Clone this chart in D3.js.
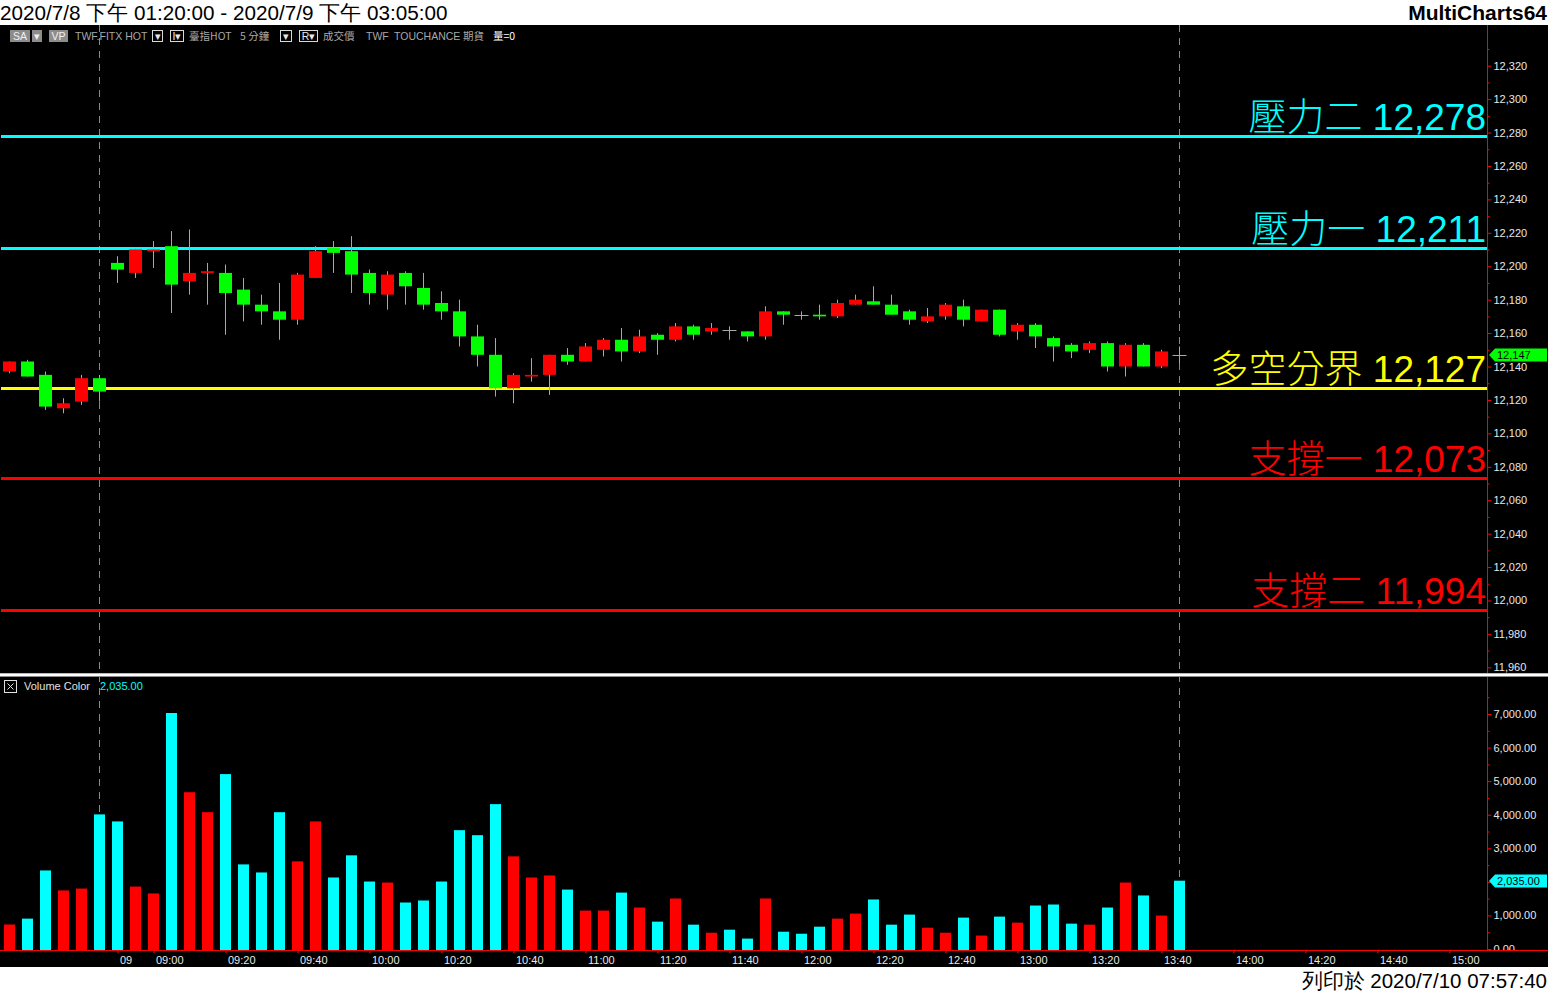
<!DOCTYPE html>
<html><head><meta charset="utf-8">
<script src="https://cdn.jsdelivr.net/npm/d3@7"></script>
<style>
html,body{margin:0;padding:0;background:#fff;overflow:hidden}
svg{display:block}
</style></head><body>
<svg id="c" width="1548" height="991"></svg>
<script>
// ---------- DATA ----------
const openP  = [12137,12143,12135,12115,12119,12133,12202,12196,12209,12212,12191,12196,12196,12186,12177,12173,12168,12193,12211,12209,12196,12183,12196,12187,12178,12173,12158,12147,12127,12134,12135,12147,12143,12150,12156,12149,12159,12156,12164,12161,12162,12161,12158,12173,12171,12171,12170,12177,12179,12177,12173,12167,12170,12176,12167,12174,12161,12165,12157,12153,12150,12154,12140,12153,12140,12147];
const highP  = [12143,12144,12137,12121,12135,12135,12206,12211,12215,12221,12222,12202,12201,12193,12183,12190,12196,12212,12215,12218,12198,12197,12197,12196,12185,12180,12165,12157,12136,12145,12147,12151,12154,12157,12163,12162,12160,12166,12165,12166,12164,12161,12176,12173,12173,12177,12180,12183,12188,12183,12174,12175,12178,12180,12174,12174,12166,12166,12158,12154,12155,12155,12154,12154,12150,12152];
const lowP   = [12136,12134,12114,12112,12117,12119,12190,12193,12199,12172,12183,12177,12159,12167,12165,12156,12165,12193,12196,12184,12177,12174,12177,12174,12168,12152,12140,12122,12118,12131,12123,12141,12143,12146,12143,12148,12147,12155,12156,12159,12156,12155,12156,12165,12168,12168,12169,12177,12177,12171,12165,12166,12168,12164,12167,12158,12156,12151,12143,12145,12148,12137,12134,12140,12139,12142];
const closeP = [12143,12134,12116,12118,12133,12125,12198,12210,12210,12189,12196,12197,12184,12177,12173,12168,12195,12209,12208,12195,12184,12195,12188,12177,12173,12158,12147,12127,12135,12135,12147,12143,12152,12156,12149,12158,12156,12164,12159,12163,12162,12158,12173,12171,12171,12170,12178,12180,12177,12171,12168,12170,12177,12168,12174,12159,12165,12158,12152,12149,12154,12140,12153,12140,12149,12147];
const volume = [730,905,2340,1745,1800,4010,3800,1860,1655,7030,4670,4075,5210,2520,2280,4075,2610,3800,2130,2790,2010,1980,1385,1445,2010,3540,3390,4315,2760,2130,2190,1770,1145,1145,1680,1235,815,1505,725,485,575,310,1505,515,455,665,905,1055,1475,725,1025,635,485,935,400,965,785,1295,1325,755,725,1235,1980,1595,995,2035];

const levelNames  = ["壓力二","壓力一","多空分界","支撐一","支撐二"];
const levelValues = [12278,12211,12127,12073,11994];
const levelColors = ["#00ffff","#00ffff","#ffff00","#ff0000","#ff0000"];

const timeTickIndex  = [6,8,12,16,20,24,28,32,36,40,44,48,52,56,60,64,68,72,76,80];
const timeTickLabels = ["09","09:00","09:20","09:40","10:00","10:20","10:40","11:00","11:20","11:40","12:00","12:20","12:40","13:00","13:20","13:40","14:00","14:20","14:40","15:00"];
const sessionBreakIndex = [5,65];

const priceTicks = [11960,11980,12000,12020,12040,12060,12080,12100,12120,12140,12160,12180,12200,12220,12240,12260,12280,12300,12320];
const volumeTicks = [0,1000,2000,3000,4000,5000,6000,7000];

const lastPrice = 12147;
const lastVolume = 2035;

const titleText = "2020/7/8 下午 01:20:00 - 2020/7/9 下午 03:05:00";
const brandText = "MultiCharts64";
const printText = "列印於 2020/7/10 07:57:40";

// ---------- LAYOUT ----------
const W = 1548, H = 991;
const axisX = 1487;
const priceTop = 25, priceBottom = 673;
const volTop = 677, volBottom = 950;

const svg = d3.select("#c");
const numFont = "'Liberation Sans', Arial, sans-serif";
const cjkFont = "'Noto Sans CJK TC','Noto Sans CJK SC', sans-serif";

const x = d3.scaleLinear().domain([0, 80]).range([9.5, 9.5 + 18 * 80]);
const yP = d3.scaleLinear().domain([11960, 12320]).range([667.3, 65.7]);
const yV = d3.scaleLinear().domain([0, 7000]).range([949, 714]);

// background
svg.append("rect").attr("x",0).attr("y",0).attr("width",W).attr("height",H).attr("fill","#fff");
svg.append("rect").attr("x",0).attr("y",25).attr("width",W).attr("height",967-25).attr("fill","#000");

// clips
const defs = svg.append("defs");
defs.append("clipPath").attr("id","cp").append("rect").attr("x",0).attr("y",priceTop).attr("width",axisX).attr("height",priceBottom-priceTop);
defs.append("clipPath").attr("id","cv").append("rect").attr("x",0).attr("y",volTop).attr("width",axisX).attr("height",volBottom-volTop);
defs.append("clipPath").attr("id","cpa").append("rect").attr("x",axisX).attr("y",priceTop).attr("width",W-axisX).attr("height",priceBottom-priceTop);
defs.append("clipPath").attr("id","cva").append("rect").attr("x",axisX).attr("y",volTop).attr("width",W-axisX).attr("height",volBottom-volTop);

// session break dashed lines
svg.append("g").selectAll("line").data(sessionBreakIndex).join("line")
  .attr("x1",d=>x(d)).attr("x2",d=>x(d)).attr("y1",priceTop).attr("y2",volBottom)
  .attr("stroke","#8a8a8a").attr("stroke-width",1).attr("stroke-dasharray","7,6");

// ---------- PRICE PANE ----------
const gp = svg.append("g").attr("clip-path","url(#cp)");
const idx = d3.range(openP.length);

// level lines
gp.selectAll("rect.lvl").data(levelValues).join("rect").attr("class","lvl")
  .attr("x",1).attr("width",axisX-1).attr("y",d=>Math.round(yP(d))-1).attr("height",3)
  .attr("fill",(d,i)=>levelColors[i]);

// wicks
gp.selectAll("line.wick").data(idx).join("line").attr("class","wick")
  .attr("x1",i=>x(i)).attr("x2",i=>x(i))
  .attr("y1",i=>yP(highP[i])).attr("y2",i=>yP(lowP[i]))
  .attr("stroke","#a8a8a8").attr("stroke-width",1);

// bodies
gp.selectAll("rect.body").data(idx.filter(i=>openP[i]!==closeP[i])).join("rect").attr("class","body")
  .attr("x",i=>x(i)-6.5).attr("width",13)
  .attr("y",i=>yP(Math.max(openP[i],closeP[i])))
  .attr("height",i=>Math.max(1,yP(Math.min(openP[i],closeP[i]))-yP(Math.max(openP[i],closeP[i]))))
  .attr("fill",i=>closeP[i]>openP[i]?"#ff0000":"#00ff00");

// doji
gp.selectAll("line.doji").data(idx.filter(i=>openP[i]===closeP[i])).join("line").attr("class","doji")
  .attr("x1",i=>x(i)-7).attr("x2",i=>x(i)+7)
  .attr("y1",i=>Math.round(yP(openP[i]))+0.5).attr("y2",i=>Math.round(yP(openP[i]))+0.5)
  .attr("stroke","#a8a8a8").attr("stroke-width",1);

// level labels
const lbl = gp.selectAll("text.lvlt").data(levelValues).join("text").attr("class","lvlt")
  .attr("x",1486).attr("y",d=>Math.round(yP(d))-6)
  .attr("text-anchor","end").attr("fill",(d,i)=>levelColors[i]).attr("font-size",37);
lbl.append("tspan").attr("font-family",cjkFont).attr("font-weight",300).attr("font-size",38).text((d,i)=>levelNames[i]);
lbl.append("tspan").attr("font-family",numFont).text(d=>" " + d3.format(",")(d));

// ---------- VOLUME PANE ----------
const gv = svg.append("g").attr("clip-path","url(#cv)");
gv.selectAll("rect.vol").data(idx).join("rect").attr("class","vol")
  .attr("x",i=>x(i)-5.5).attr("width",11)
  .attr("y",i=>yV(volume[i])).attr("height",i=>volBottom-yV(volume[i]))
  .attr("fill",i=>closeP[i]>openP[i]?"#ff0000":"#00ffff");

// legend
svg.append("rect").attr("x",4.5).attr("y",680.5).attr("width",12).attr("height",12).attr("fill","none").attr("stroke","#e0e0e0");
svg.append("path").attr("d","M7.5,683.5L13.5,689.5M13.5,683.5L7.5,689.5").attr("stroke","#e0e0e0");
svg.append("text").attr("x",24).attr("y",690).attr("font-family",numFont).attr("font-size",11).attr("fill","#e0e0e0").text("Volume Color");
svg.append("text").attr("x",100).attr("y",690).attr("font-family",numFont).attr("font-size",11).attr("fill","#00ffff").text(d3.format(",.2f")(lastVolume));

// ---------- PANE SEPARATOR ----------
svg.append("rect").attr("x",0).attr("y",673).attr("width",W).attr("height",1).attr("fill","#b8b8b8");
svg.append("rect").attr("x",0).attr("y",674).attr("width",W).attr("height",2).attr("fill","#ffffff");
svg.append("rect").attr("x",0).attr("y",676).attr("width",W).attr("height",1).attr("fill","#8a8a8a");

// ---------- AXES ----------
function styleAxis(g){
  g.select(".domain").remove();
  g.selectAll(".tick line").attr("stroke","#ff0000");
  g.selectAll(".tick text").attr("fill","#e8e8e8").attr("font-family",numFont).attr("font-size",11);
}
// price axis
const pa = svg.append("g").attr("clip-path","url(#cpa)");
pa.append("g").attr("transform",`translate(${axisX+0.5},0)`)
  .call(d3.axisRight(yP).tickValues(priceTicks).tickSize(4).tickPadding(2).tickFormat(d3.format(",")))
  .call(styleAxis);
pa.append("g").attr("transform",`translate(${axisX+0.5},0)`)
  .call(d3.axisRight(yP).tickValues(priceTicks.map(d=>d+10)).tickSize(2).tickFormat(""))
  .call(styleAxis);
svg.append("line").attr("x1",axisX+0.5).attr("x2",axisX+0.5).attr("y1",priceTop).attr("y2",priceBottom).attr("stroke","#ff0000");

// volume axis (the label hidden behind the last-value tag is not drawn)
const va = svg.append("g").attr("clip-path","url(#cva)");
va.append("g").attr("transform",`translate(${axisX+0.5},0)`)
  .call(d3.axisRight(yV).tickValues(volumeTicks).tickSize(4).tickPadding(2)
    .tickFormat(d=>Math.abs(yV(d)-yV(lastVolume))<9 ? "" : d3.format(",.2f")(d)))
  .call(styleAxis);
va.append("g").attr("transform",`translate(${axisX+0.5},0)`)
  .call(d3.axisRight(yV).tickValues(volumeTicks.map(d=>d+500)).tickSize(2).tickFormat(""))
  .call(styleAxis);
svg.append("line").attr("x1",axisX+0.5).attr("x2",axisX+0.5).attr("y1",volTop).attr("y2",volBottom).attr("stroke","#ff0000");

// time axis
const ta = svg.append("g").attr("transform",`translate(0,${volBottom+0.5})`)
  .call(d3.axisBottom(x).tickValues(timeTickIndex).tickSize(3).tickFormat((d,i)=>timeTickLabels[i]))
  .call(styleAxis);
ta.selectAll(".tick text").attr("text-anchor","start").attr("x",2).attr("y",13.5).attr("dy",0);
svg.append("line").attr("x1",0).attr("x2",W).attr("y1",volBottom+0.5).attr("y2",volBottom+0.5).attr("stroke","#ff0000");

// ---------- LAST VALUE TAGS ----------
function tag(cy, fill, txt){
  cy = Math.round(cy);
  svg.append("path").attr("d",`M1489,${cy}L1495,${cy-6.5}L1547,${cy-6.5}L1547,${cy+6.5}L1495,${cy+6.5}Z`).attr("fill",fill);
  svg.append("text").attr("x",1497).attr("y",cy+4).attr("font-family",numFont).attr("font-size",11).attr("fill","#000").text(txt);
}
tag(yP(lastPrice), "#00ff00", d3.format(",")(lastPrice));
tag(yV(lastVolume), "#00ffff", d3.format(",.2f")(lastVolume));

// ---------- TOOLBAR ----------
const tb = svg.append("g").attr("font-family",numFont).attr("font-size",10.5);
function fillBox(x0,w,t){
  tb.append("rect").attr("x",x0).attr("y",30).attr("width",w).attr("height",12).attr("fill","#8c8c8c");
  tb.append("text").attr("x",x0+w/2).attr("y",40).attr("text-anchor","middle").attr("fill","#f0f0f0").text(t);
}
function outBox(x0,w,t){
  tb.append("rect").attr("x",x0+0.5).attr("y",30.5).attr("width",w).attr("height",11).attr("fill","#000").attr("stroke","#d8d8d8");
  tb.append("text").attr("x",x0+w/2+0.5).attr("y",40).attr("text-anchor","middle").attr("fill","#e8e8e8").text(t);
}
fillBox(10,20,"SA");
tb.append("rect").attr("x",32).attr("y",30).attr("width",10).attr("height",12).attr("fill","#8c8c8c");
tb.append("text").attr("x",37).attr("y",40).attr("text-anchor","middle").attr("fill","#f0f0f0").text("▾");
fillBox(49,19,"VP");
const gray = "#a8a8a8";
tb.append("text").attr("x",75).attr("y",40).attr("fill",gray).text("TWF.FITX HOT");
outBox(152,10,"▾");
outBox(170,13,"I▾");
tb.append("text").attr("x",189).attr("y",40).attr("fill",gray).attr("font-family",cjkFont).text("臺指HOT");
tb.append("text").attr("x",240).attr("y",40).attr("fill",gray).attr("font-family",cjkFont).text("5 分鐘");
outBox(280,11,"▾");
outBox(299,18,"R▾");
tb.append("text").attr("x",323).attr("y",40).attr("fill",gray).attr("font-family",cjkFont).text("成交價");
tb.append("text").attr("x",366).attr("y",40).attr("fill",gray).text("TWF");
tb.append("text").attr("x",394).attr("y",40).attr("fill",gray).text("TOUCHANCE");
tb.append("text").attr("x",463).attr("y",40).attr("fill",gray).attr("font-family",cjkFont).text("期貨");
tb.append("text").attr("x",493).attr("y",40).attr("fill","#ffffff").attr("font-family",cjkFont).text("量=0");

// ---------- HEADER / FOOTER ----------
svg.append("text").attr("x",0).attr("y",20).attr("font-family",numFont).attr("font-size",20.7).attr("fill","#000").text(titleText);
svg.append("text").attr("x",1547).attr("y",20).attr("text-anchor","end").attr("font-family",numFont).attr("font-weight","bold").attr("font-size",21).attr("fill","#000").text(brandText);
svg.append("text").attr("x",1547).attr("y",988).attr("text-anchor","end").attr("font-family",numFont).attr("font-size",20.5).attr("fill","#000").text(printText);
</script>
</body></html>
